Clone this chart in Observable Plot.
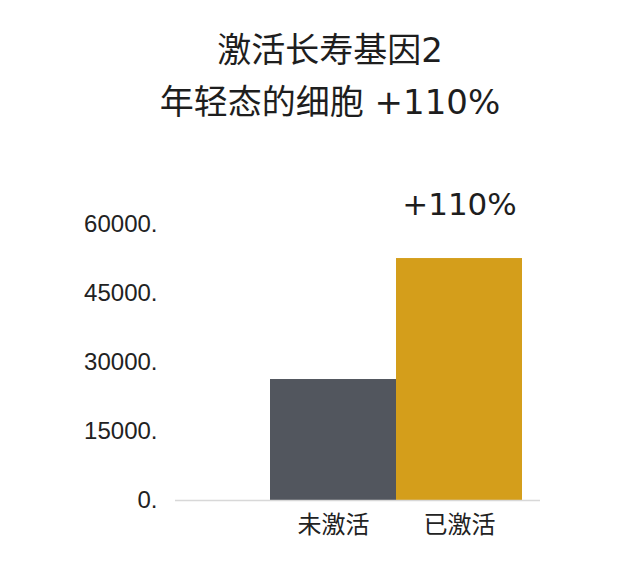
<!DOCTYPE html>
<html>
<head>
<meta charset="utf-8">
<script src="https://cdn.jsdelivr.net/npm/d3@7"></script>
<script src="https://cdn.jsdelivr.net/npm/@observablehq/plot@0.6"></script>
<style>
  html, body { margin: 0; padding: 0; background: #fff; }
  #wrap { width: 618px; height: 565px; position: relative; overflow: hidden; }
  .title { position: absolute; left: 0; width: 618px; text-align: center; padding-left: 42px; box-sizing: border-box;
           font-family: "DejaVu Sans", "Noto Sans CJK SC", sans-serif; font-size: 34px; color: #1e1e1e; line-height: 1; }
  .title .cjk { font-family: "Noto Sans CJK SC", sans-serif; }
  #t1 { top: 31px; }
  #t2 { top: 83px; }
  #chart { position: absolute; left: 0; top: 140px; }
</style>
</head>
<body>
<div id="wrap">
  <div class="title" id="t1"><span class="cjk">激活长寿基因</span>2</div>
  <div class="title" id="t2"><span class="cjk">年轻态的细胞</span> +110%</div>
  <div id="chart"></div>
</div>
<script>
const categories = ["未激活", "已激活"];
const values = [26300, 52600];
const colors = ["#52565e", "#d49e1b"];
const yTicks = [0, 15000, 30000, 45000, 60000];
const annotation = ["", "+110%"];

const data = categories.map((c, i) => ({category: c, value: values[i], color: colors[i], note: annotation[i]}));

const chart = Plot.plot({
  width: 618,
  height: 425,
  marginTop: 84,
  marginBottom: 65,
  marginLeft: 175,
  marginRight: 78,
  style: {fontFamily: "'Liberation Sans', 'Noto Sans CJK SC', sans-serif", color: "#222", background: "#fff"},
  x: {domain: categories, range: [270, 522], padding: 0},
  y: {domain: [0, 60000]},
  marks: [
    Plot.barY(data, {x: "category", y: "value", fill: "color", inset: 0}),
    Plot.ruleY([0], {stroke: "#d8d8d8", strokeWidth: 1.5}),
    Plot.axisY({ticks: yTicks, tickFormat: d => d + ".", tickSize: 0, tickPadding: 18, fontSize: 24, label: null}),
    Plot.axisX({tickSize: 0, tickPadding: 15, fontSize: 24, label: null, fontFamily: "'Noto Sans CJK SC', sans-serif"}),
    Plot.text(data.filter(d => d.note), {x: "category", y: "value", text: "note", dy: -53, fontSize: 31, fill: "#1e1e1e", fontFamily: "'DejaVu Sans', sans-serif"})
  ]
});
document.getElementById("chart").appendChild(chart);
</script>
</body>
</html>
